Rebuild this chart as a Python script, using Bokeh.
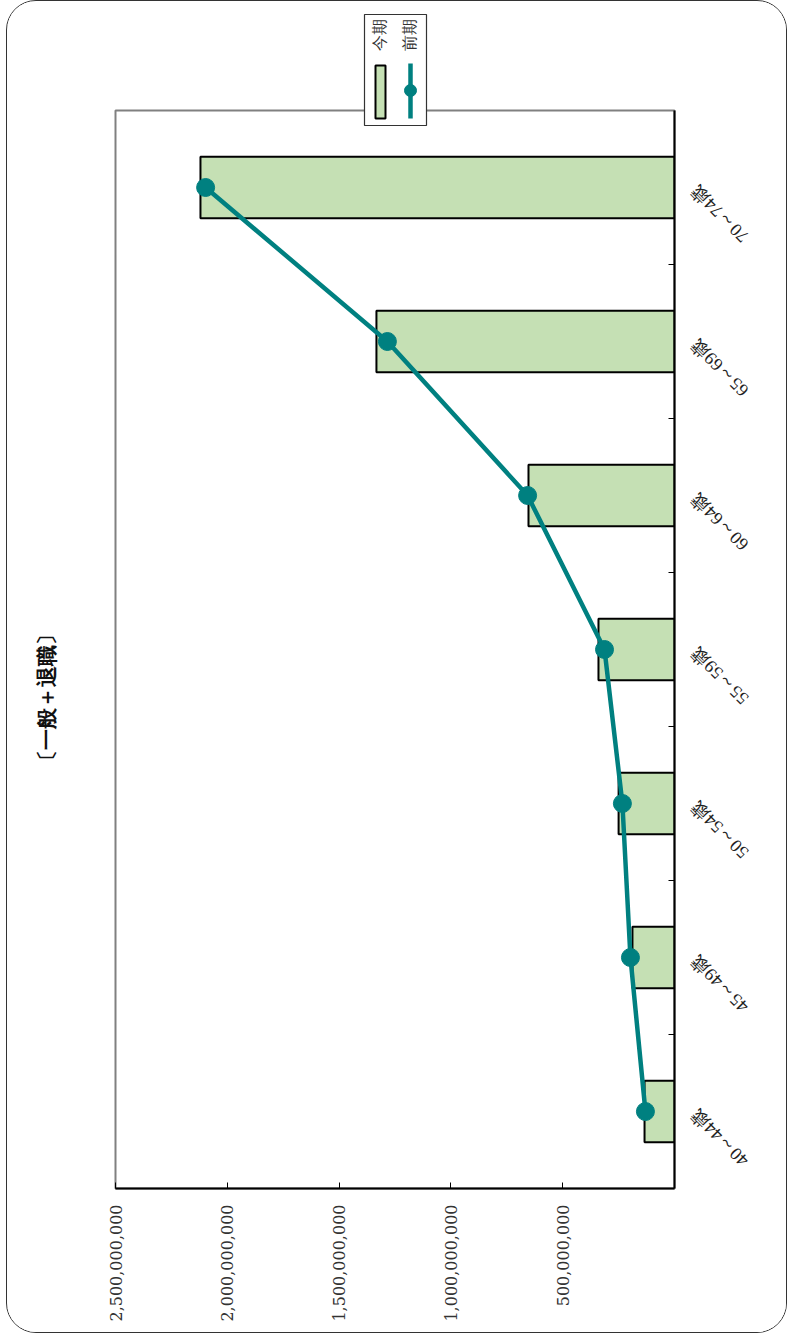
import math
from bokeh.plotting import figure
from bokeh.models import Range1d, FixedTicker, NumeralTickFormatter, ColumnDataSource
from bokeh.embed import file_html
from bokeh.resources import INLINE

# ---- data ----
categories = ["40～44歳", "45～49歳", "50～54歳", "55～59歳", "60～64歳", "65～69歳", "70～74歳"]
current_period = [134e6, 188e6, 250e6, 340e6, 653e6, 1333e6, 2120e6]   # 今期 (bars)
previous_period = [130e6, 197e6, 233e6, 313e6, 657e6, 1284e6, 2097e6]  # 前期 (line)
value_ticks = [500e6, 1000e6, 1500e6, 2000e6, 2500e6]
value_max = 2500e6
series_names = ["今期", "前期"]
title_text = "〔一般＋退職〕"

# ---- style / layout constants ----
TEAL = "#008080"
GREEN = "#c5e0b4"
SERIF = "DejaVu Serif"
CJK = "Noto Sans CJK JP"
PAGE_W, PAGE_H = 789, 1335
FRAME_L, FRAME_R, FRAME_T, FRAME_B = 115, 674, 110, 1188
ORIG_X, ORIG_Y = 7, 1          # canvas origin of the main figure (margin + border)
N = len(categories)

centers = [i + 0.5 for i in range(N)]
boundaries = [i for i in range(1, N)]
src = ColumnDataSource(dict(y=centers, cur=current_period, prev=previous_period, cat=categories))

# ================= main chart =================
p = figure(width=781, height=1333,
           x_range=Range1d(value_max, 0), y_range=Range1d(0, N),
           x_axis_location="below", y_axis_location="right",
           min_border_left=FRAME_L - ORIG_X, min_border_right=781 - (FRAME_R - ORIG_X),
           min_border_top=FRAME_T - ORIG_Y, min_border_bottom=1333 - (FRAME_B - ORIG_Y),
           output_backend="svg", toolbar_location=None)
p.styles = {"border": "1px solid #333", "border-radius": "30px", "overflow": "hidden",
            "margin-left": "6px"}

p.xgrid.visible = False
p.ygrid.visible = False
p.outline_line_color = "#808080"
p.outline_line_width = 2
p.border_fill_color = "white"

p.hbar(y="y", left=0, right="cur", height=0.4, fill_color=GREEN, line_color="black",
       line_width=2, source=src)
p.line(x="prev", y="y", line_color=TEAL, line_width=4.5, source=src)
p.scatter(x="prev", y="y", size=18, fill_color=TEAL, line_color=TEAL, source=src)

xa = p.xaxis[0]
xa.ticker = FixedTicker(ticks=value_ticks)
xa.formatter = NumeralTickFormatter(format="0,0")
xa.major_label_orientation = math.pi / 2
xa.major_label_text_font = SERIF
xa.major_label_text_font_size = "16px"
xa.major_label_text_color = "#333"
xa.major_label_standoff = 16
xa.major_tick_in = 6
xa.major_tick_out = 0
xa.minor_tick_line_color = None
xa.axis_line_color = "black"
xa.axis_line_width = 2
xa.major_tick_line_color = "black"

ya = p.yaxis[0]
ya.ticker = FixedTicker(ticks=centers, minor_ticks=boundaries)
ya.major_label_text_color = None
ya.major_tick_line_color = None
ya.minor_tick_in = 6
ya.minor_tick_out = 0
ya.minor_tick_line_color = "black"
ya.axis_line_color = "black"
ya.axis_line_width = 2

# ================= overlay (labels outside the frame, legend, title) =================
px_per_val = (FRAME_R - FRAME_L) / value_max
px_per_cat = (FRAME_B - FRAME_T) / N
ov = figure(width=PAGE_W, height=PAGE_H,
            x_range=Range1d(FRAME_R / px_per_val, (FRAME_R - PAGE_W) / px_per_val),
            y_range=Range1d((FRAME_B - PAGE_H) / px_per_cat, FRAME_B / px_per_cat),
            x_axis_location=None, y_axis_location=None,
            min_border=0, min_border_left=0, min_border_right=0,
            min_border_top=0, min_border_bottom=0,
            output_backend="svg", toolbar_location=None)
ov.extra_x_ranges = {"px": Range1d(0, PAGE_W)}
ov.extra_y_ranges = {"px": Range1d(PAGE_H, 0)}
ov.styles = {"position": "absolute", "left": "0px", "top": "0px"}
ov.xgrid.visible = False
ov.ygrid.visible = False
ov.outline_line_color = None
ov.background_fill_alpha = 0
ov.border_fill_alpha = 0

# category labels, rotated, anchored at their end next to the value-0 axis
ov.text(x=0, y="y", text="cat", source=src, angle=3 * math.pi / 4,
        text_align="right", text_baseline="middle", x_offset=20, y_offset=1,
        text_font=SERIF, text_font_size="18px", text_color="#222")

# title (rotated, left side)
ov.text(x=[46], y=[697], text=[title_text], angle=math.pi / 2,
        text_align="center", text_baseline="middle",
        text_font=CJK, text_font_size="21px", text_font_style="bold", text_color="#111",
        x_range_name="px", y_range_name="px")

# legend (rotated)
ov.quad(left=[364], right=[426], top=[14], bottom=[125], fill_color="white",
        line_color="#333", line_width=1.2, x_range_name="px", y_range_name="px")
ov.quad(left=[375], right=[385], top=[65], bottom=[118], fill_color=GREEN,
        line_color="black", line_width=2, x_range_name="px", y_range_name="px")
ov.segment(x0=[410], y0=[63], x1=[410], y1=[118], line_color=TEAL, line_width=4.5,
           x_range_name="px", y_range_name="px")
ov.scatter(x=[410], y=[90], size=12, fill_color=TEAL, line_color=TEAL,
           x_range_name="px", y_range_name="px")
ov.text(x=[379, 409], y=[50, 50], text=series_names, angle=math.pi / 2,
        text_align="left", text_baseline="middle",
        text_font=CJK, text_font_size="16px", text_color="#333",
        x_range_name="px", y_range_name="px")

open("out.html", "w").write(file_html([p, ov], INLINE))
